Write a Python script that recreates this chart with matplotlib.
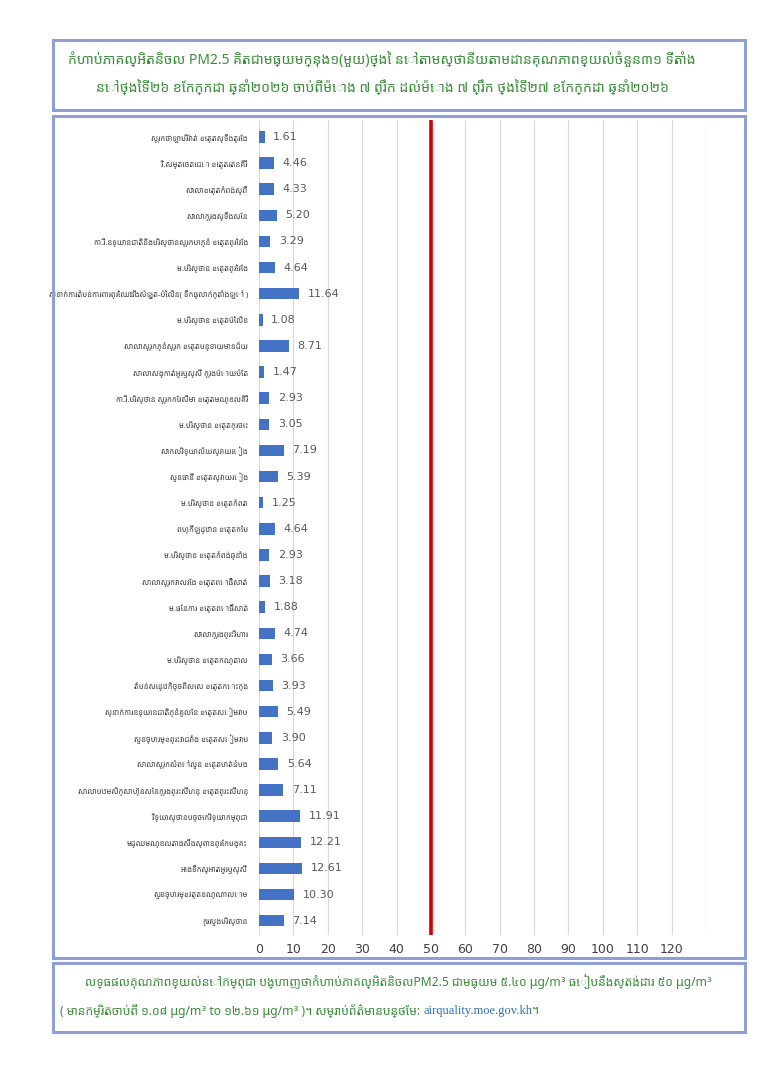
import matplotlib
matplotlib.use("Agg")
import matplotlib.pyplot as plt
from matplotlib.patches import Rectangle

KHMER = ["Noto Sans Khmer", "DejaVu Sans"]
GREEN = "#3b8c3b"
BORDER = "#8e9fd6"

stations = [
    "ស្រុកថាឡាបរិវ៉ាត់ ខេត្តស្ទឹងត្រែង",
    "វិ.សម្តេចតេជោ ខេត្តរតនគិរី",
    "សាលាខេត្តកំពង់ស្ពឺ",
    "សាលាក្រុងស្ទឹងសែន",
    "កា.រី.ឧទ្យានជាតិនិងបរិស្ថានស្រុកបាភ្នំ ខេត្តព្រៃវែង",
    "ម.បរិស្ថាន ខេត្តព្រៃវែង",
    "ស្នាក់ការតំបន់ការពារព្រៃឈើដងសំឡូត-ប៉ៃលិន( ទឹកធ្លាក់ក្តាំងឡៅ )",
    "ម.បរិស្ថាន ខេត្តប៉ៃលិន",
    "សាលាស្រុកភ្នំស្រុក ខេត្តបន្ទាយមានជ័យ",
    "សាលាសង្កាត់អូរឫស្សី ក្រុងប៉ោយប៉ែត",
    "កា.រី.បរិស្ថាន ស្រុកកែវសីមា ខេត្តមណ្ឌលគិរី",
    "ម.បរិស្ថាន ខេត្តក្រចេះ",
    "សាកលវិទ្យាល័យស្វាយរៀង",
    "សួនធានី ខេត្តស្វាយរៀង",
    "ម.បរិស្ថាន ខេត្តកំពត",
    "ពហុកីឡដ្ឋាន ខេត្តកែប",
    "ម.បរិស្ថាន ខេត្តកំពង់ឆ្នាំង",
    "សាលាស្រុកវាលវែង ខេត្តពោធិ៍សាត់",
    "ម.ផែនការ ខេត្តពោធិ៍សាត់",
    "សាលាក្រុងព្រះវិហារ",
    "ម.បរិស្ថាន ខេត្តកណ្តាល",
    "តំបន់សេដ្ឋកិច្ចពិសេស ខេត្តកោះកុង",
    "ស្នាក់ការឧទ្យានជាតិភ្នំគូលែន ខេត្តសៀមរាប",
    "សួនច្បារមុខព្រះរាជវាំង ខេត្តសៀមរាប",
    "សាលាស្រុកសំពៅលូន ខេត្តបាត់ដំបង",
    "សាលាបឋមសិក្សាហ៊ុនសែនក្រុងព្រះសីហនុ ខេត្តព្រះសីហនុ",
    "វិទ្យាស្ថានបច្ចេកវិទ្យាកម្ពុជា",
    "មជ្ឈមណ្ឌលតាងសឹងស្ពានព្រែកបង្គះ",
    "អាងទឹកស្អាតអូរឫស្សី",
    "សួនច្បារមុខវត្តឧណ្ណាលោម",
    "ក្រសួងបរិស្ថាន",
]
pm25 = [1.61, 4.46, 4.33, 5.20, 3.29, 4.64, 11.64, 1.08, 8.71, 1.47,
        2.93, 3.05, 7.19, 5.39, 1.25, 4.64, 2.93, 3.18, 1.88, 4.74,
        3.66, 3.93, 5.49, 3.90, 5.64, 7.11, 11.91, 12.21, 12.61, 10.30,
        7.14]
standard = 50
xticks = list(range(0, 140, 10))

title_lines = [
    "កំហាប់ភាគល្អិតនិចល PM2.5 គិតជាមធ្យមក្នុង១(មួយ)ថ្ងៃ នៅតាមស្ថានីយតាមដានគុណភាពខ្យល់ចំនួន៣១ ទីតាំង",
    "នៅថ្ងៃទី២៦ ខែកក្កដា ឆ្នាំ២០២៦ ចាប់ពីម៉ោង ៧ ព្រឹក ដល់ម៉ោង ៧ ព្រឹក ថ្ងៃទី២៧ ខែកក្កដា ឆ្នាំ២០២៦",
]
footer_line1 = "លទ្ធផលគុណភាពខ្យល់នៅកម្ពុជា បង្ហាញថាកំហាប់ភាគល្អិតនិចលPM2.5 ជាមធ្យម ៥.៤០ µg/m³ ធៀបនឹងស្តង់ដារ ៥០ µg/m³"
footer_line2 = "( មានកម្រិតចាប់ពី ១.០៨ µg/m³ to ១២.៦១ µg/m³ )។ សម្រាប់ព័ត៌មានបន្ថែម: "
footer_url = "airquality.moe.gov.kh"

W, H = 764, 1080
fig = plt.figure(figsize=(W / 100, H / 100), dpi=100)
fig.patch.set_facecolor("white")


def box(x0, y0, x1, y1):
    fig.patches.append(Rectangle((x0 / W, 1 - y1 / H), (x1 - x0) / W, (y1 - y0) / H,
                                 transform=fig.transFigure, fill=False,
                                 edgecolor=BORDER, linewidth=2.2))


box(53, 40, 745, 110)
box(53, 116, 745, 958)
box(53, 963, 745, 1032)

# title
fig.text(0.5, 1 - 60 / H, title_lines[0], ha="center", va="center",
         fontsize=10, color=GREEN, family=KHMER)
fig.text(0.5, 1 - 88 / H, title_lines[1], ha="center", va="center",
         fontsize=10, color=GREEN, family=KHMER)

# chart
ax = fig.add_axes([259 / W, 1 - 935 / H, (706 - 259) / W, (935 - 120) / H])
ypos = list(range(len(stations)))
ax.barh(ypos, pm25, height=0.44, color="#4472c4", zorder=3)
for y, v in zip(ypos, pm25):
    ax.text(v + 2.5, y, f"{v:.2f}", va="center", ha="left",
            fontsize=8, color="#595959", zorder=4)
ax.axvline(standard, color="#d40000", linewidth=2.6, zorder=5)

ax.set_xlim(0, 130)
ax.set_ylim(len(stations) - 0.45, -0.65)
ax.set_xticks(xticks)
ax.set_xticklabels([str(t) if t <= 120 else "" for t in xticks],
                   fontsize=9, color="#404040")
ax.set_yticks(ypos)
ax.set_yticklabels(stations, family=KHMER, fontsize=5.5, color="#404040")
ax.tick_params(axis="both", length=0)
ax.tick_params(axis="y", pad=8)
ax.tick_params(axis="x", pad=6)
ax.grid(axis="x", color="#d9d9d9", linewidth=0.9, zorder=0)
for s in ax.spines.values():
    s.set_visible(False)

# footer
fig.text(85 / W, 1 - 982 / H, footer_line1, ha="left", va="center",
         fontsize=8.7, color=GREEN, family=KHMER)
t2 = fig.text(60 / W, 1 - 1011 / H, footer_line2, ha="left", va="center",
              fontsize=8.7, color=GREEN, family=KHMER)
fig.canvas.draw()
bb = t2.get_window_extent()
t3 = fig.text(bb.x1 / W, 1 - 1011 / H, footer_url, ha="left", va="center",
              fontsize=9, color="#2e6fb5", family="Liberation Serif")
fig.canvas.draw()
bb3 = t3.get_window_extent()
fig.text(bb3.x1 / W, 1 - 1011 / H, "។", ha="left", va="center",
         fontsize=8.7, color=GREEN, family=KHMER)

fig.savefig("out.png", dpi=100)
